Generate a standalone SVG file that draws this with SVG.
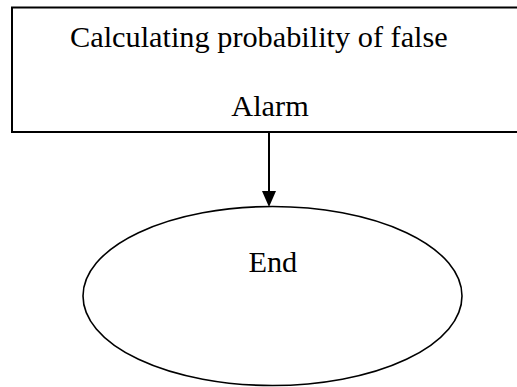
<svg xmlns="http://www.w3.org/2000/svg" width="517" height="387" viewBox="0 0 517 387">
<style>
.t{font-family:"Liberation Serif","Times New Roman",serif;font-size:30.3px;fill:#000}
.box{fill:#fff;stroke:#000;stroke-width:2}
.ell{fill:#fff;stroke:#000;stroke-width:1.6}
.con{stroke:#000;stroke-width:2;fill:none}
</style>
<defs>
<marker id="ah" markerWidth="16" markerHeight="14" refX="0" refY="7" orient="auto" markerUnits="userSpaceOnUse" viewBox="0 0 16 14">
<polygon points="0,0 16,7 0,14" fill="#000"/>
</marker>
</defs>
<rect x="0" y="0" width="517" height="387" fill="#fff"/>
<g id="node-calc">
<rect class="box" x="12" y="7.5" width="520" height="124.5"/>
<text class="t" x="70" y="46.7">Calculating probability of false</text>
<text class="t" x="270" y="115.7" text-anchor="middle">Alarm</text>
</g>
<g id="node-end">
<ellipse class="ell" cx="272.5" cy="296" rx="189.5" ry="89.5"/>
<text class="t" x="272.8" y="271.7" text-anchor="middle">End</text>
</g>
<g id="connectors">
<line class="con" x1="269" y1="133" x2="269" y2="191" marker-end="url(#ah)"/>
</g>
</svg>
